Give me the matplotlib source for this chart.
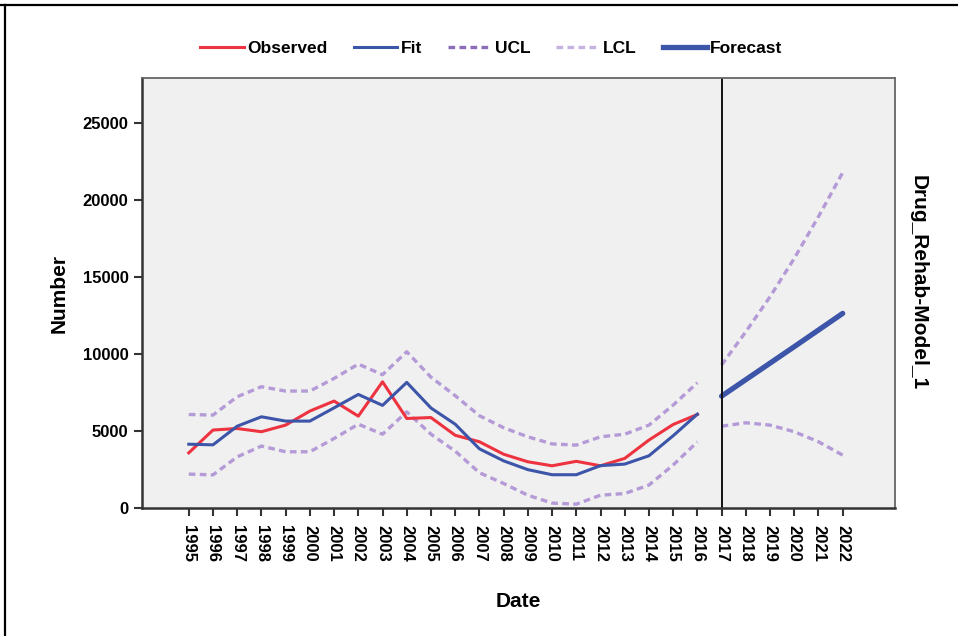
import matplotlib
matplotlib.use("Agg")
import matplotlib.pyplot as plt
from matplotlib.lines import Line2D
import numpy as np

plt.rcParams['font.family'] = ['Liberation Sans Narrow', 'Liberation Sans', 'DejaVu Sans']

# --- data ---
years = list(range(1995, 2017))
observed = [3590, 5070, 5170, 4960, 5390, 6300, 6950, 5970, 8200, 5820, 5880,
            4730, 4310, 3500, 3010, 2750, 3040, 2750, 3230, 4420, 5430, 6080]
fit = [4150, 4110, 5320, 5930, 5650, 5650, 6510, 7380, 6670, 8160, 6500,
       5450, 3850, 3070, 2500, 2170, 2170, 2760, 2860, 3400, 4700, 6100]
ucl = [6080, 6040, 7230, 7880, 7600, 7600, 8420, 9350, 8660, 10150, 8500,
       7300, 6000, 5220, 4630, 4170, 4090, 4630, 4800, 5390, 6690, 8140]
lcl = [2210, 2160, 3330, 4030, 3660, 3660, 4520, 5450, 4800, 6250, 4800,
       3700, 2300, 1600, 840, 330, 260, 840, 950, 1500, 2800, 4300]

fc_years = list(range(2017, 2023))
forecast = [7270, 8340, 9410, 10480, 11560, 12640]
ucl_fc = [9290, 11450, 13720, 16210, 18920, 21780]
lcl_fc = [5320, 5540, 5390, 4960, 4310, 3440]

all_years = years + fc_years
y_ticks = [0, 5000, 10000, 15000, 20000, 25000]

# colours
RED = '#ee3340'
BLUE = '#3d55a8'
UCL_C = '#8c6bb8'
LCL_C = '#c5b2e0'
BAND_C = '#b49ad6'

fig = plt.figure(figsize=(9.58, 6.36), dpi=100)
ax = fig.add_axes([0.148, 0.201, 0.786, 0.676])
ax.set_facecolor('#f0f0f0')

dash = (0, (2.0, 1.3))
ax.plot(years, ucl, color=BAND_C, lw=2.4, linestyle=dash)
ax.plot(years, lcl, color=BAND_C, lw=2.4, linestyle=dash)
ax.plot(fc_years, ucl_fc, color=BAND_C, lw=2.4, linestyle=dash)
ax.plot(fc_years, lcl_fc, color=BAND_C, lw=2.4, linestyle=dash)
ax.plot(years, observed, color=RED, lw=2.2)
ax.plot(years, fit, color=BLUE, lw=2.2)
ax.plot(fc_years, forecast, color=BLUE, lw=3.8, solid_capstyle='round')

ax.axvline(2017, color='#111111', lw=1.4)

ax.set_xlim(1993.06, 2024.15)
ax.set_ylim(0, 27900)
ax.set_xticks(all_years)
ax.set_xticklabels([str(y) for y in all_years], rotation=-90, fontsize=12,
                   fontweight='bold')
ax.set_yticks(y_ticks)
ax.set_yticklabels([str(v) for v in y_ticks], fontsize=12, fontweight='bold')
ax.tick_params(axis='both', direction='out', length=6, width=1.5, color='#333333')
ax.tick_params(axis='x', pad=6)

for side in ['left', 'bottom']:
    ax.spines[side].set_color('#333333')
    ax.spines[side].set_linewidth(1.8)
for side in ['top', 'right']:
    ax.spines[side].set_color('#666666')
    ax.spines[side].set_linewidth(1.3)

ax.set_ylabel('Number', fontsize=15, fontweight='bold', labelpad=10)
ax.set_xlabel('Date', fontsize=15, fontweight='bold', labelpad=22)

fig.text(0.958, 0.555, 'Drug_Rehab-Model_1', rotation=-90, ha='center',
         va='center', fontsize=15, fontweight='bold')

handles = [
    Line2D([], [], color=RED, lw=2.2),
    Line2D([], [], color=BLUE, lw=2.2),
    Line2D([], [], color=UCL_C, lw=2.4, linestyle=dash),
    Line2D([], [], color=LCL_C, lw=2.4, linestyle=dash),
    Line2D([], [], color=BLUE, lw=3.8),
]
labels = ['Observed', 'Fit', 'UCL', 'LCL', 'Forecast']
fig.legend(handles, labels, loc='center', bbox_to_anchor=(0.513, 0.924), ncol=5,
           frameon=False, handlelength=2.5, handletextpad=0.2, columnspacing=1.5,
           prop={'weight': 'bold', 'size': 12.5})

# outer frame lines (top and left)
fig.add_artist(Line2D([0, 1], [1 - 5 / 636, 1 - 5 / 636], color='black', lw=1.6,
                      transform=fig.transFigure))
fig.add_artist(Line2D([5 / 958, 5 / 958], [0, 1 - 5 / 636], color='black', lw=1.6,
                      transform=fig.transFigure))

fig.savefig('out.png', dpi=100)
